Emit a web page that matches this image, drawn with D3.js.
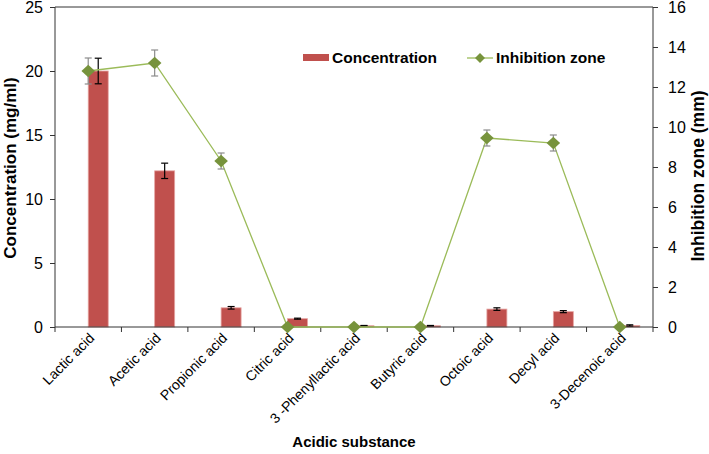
<!DOCTYPE html>
<html><head><meta charset="utf-8">
<script src="https://cdn.jsdelivr.net/npm/d3@7"></script>
<style>body{margin:0;background:#fff}svg{font-family:"Liberation Sans",Arial,sans-serif}</style>
</head><body><svg id="c" width="709" height="454"></svg>
<script>
const categories = ["Lactic acid","Acetic acid","Propionic acid","Citric acid","3 -Phenyllactic acid","Butyric acid","Octoic acid","Decyl acid","3-Decenoic acid"];
const concentration = [20.0, 12.2, 1.5, 0.65, 0.1, 0.1, 1.4, 1.2, 0.12];
const concErr = [1.0, 0.6, 0.1, 0.04, 0.02, 0.02, 0.1, 0.08, 0.05];
const inhibition = [12.8, 13.2, 8.3, 0, 0, 0, 9.45, 9.2, 0];
const inhibErr = [0.65, 0.65, 0.4, 0, 0, 0, 0.4, 0.4, 0];
const leftTicks = [0,5,10,15,20,25];
const rightTicks = [0,2,4,6,8,10,12,14,16];

const svg = d3.select("#c");
const L = 55, R = 653, T = 7, B = 327;
const x = d3.scaleBand().domain(categories).range([L, R]);
const yL = d3.scaleLinear().domain([0,25]).range([B, T]);
const yR = d3.scaleLinear().domain([0,16]).range([B, T]);
const cx = c => x(c) + x.bandwidth()/2;
const barW = 20;
const diamond = (w,h) => `M0,${-h}L${w},0L0,${h}L${-w},0Z`;

// frame top
svg.append("line").attr("x1",L).attr("x2",R).attr("y1",T).attr("y2",T).attr("stroke","#333").attr("stroke-width",1);

// bars
svg.selectAll("rect.bar").data(categories).enter().append("rect")
  .attr("x", c => cx(c)).attr("width", barW)
  .attr("y", (c,i) => yL(concentration[i])).attr("height", (c,i) => B - yL(concentration[i]))
  .attr("fill","#C0504D").attr("stroke","#E6A5A3").attr("stroke-width",0.8);

// bar error bars
const eb = svg.append("g").attr("stroke","#000").attr("stroke-width",1.2);
categories.forEach((c,i)=>{
  const xm = cx(c)+barW/2, y1 = yL(concentration[i]+concErr[i]), y2 = yL(concentration[i]-concErr[i]);
  eb.append("line").attr("x1",xm).attr("x2",xm).attr("y1",y1).attr("y2",y2);
  eb.append("line").attr("x1",xm-3.5).attr("x2",xm+3.5).attr("y1",y1).attr("y2",y1);
  eb.append("line").attr("x1",xm-3.5).attr("x2",xm+3.5).attr("y1",y2).attr("y2",y2);
});

// axes
const axL = svg.append("g").attr("transform",`translate(${L},0)`).call(d3.axisLeft(yL).tickValues(leftTicks).tickSize(5).tickPadding(7));
const axR = svg.append("g").attr("transform",`translate(${R},0)`).call(d3.axisRight(yR).tickValues(rightTicks).tickSize(5).tickPadding(10));
[axL,axR].forEach(a=>{a.select(".domain").attr("stroke","#333").attr("d",`M0,${T}V${B}`);
  a.selectAll(".tick line").attr("stroke","#333");
  a.selectAll("text").attr("font-size",16).attr("fill","#000").attr("font-family","Liberation Sans, Arial, sans-serif");});
const xb = svg.append("g").attr("transform",`translate(0,${B})`);
xb.append("line").attr("x1",L).attr("x2",R).attr("stroke","#333");
d3.range(categories.length+1).forEach(k=>{
  const xx = L + k*x.bandwidth();
  xb.append("line").attr("x1",xx).attr("x2",xx).attr("y1",0).attr("y2",5).attr("stroke","#333");
});
categories.forEach(c=>{
  xb.append("text").attr("transform",`translate(${cx(c)+7},${12}) rotate(-45)`)
    .attr("text-anchor","end").attr("font-size",14).text(c);
});

// line
const lineGen = d3.line().x((d,i)=>cx(categories[i])).y(d=>yR(d));
svg.append("path").datum(inhibition).attr("d",lineGen).attr("fill","none").attr("stroke","#9BBB59").attr("stroke-width",1.3);
const ie = svg.append("g").attr("stroke","#8c8c8c").attr("stroke-width",1.2);
categories.forEach((c,i)=>{
  if(!inhibErr[i]) return;
  const xm = cx(c), y1 = yR(inhibition[i]+inhibErr[i]), y2 = yR(inhibition[i]-inhibErr[i]);
  ie.append("line").attr("x1",xm).attr("x2",xm).attr("y1",y1).attr("y2",y2);
  ie.append("line").attr("x1",xm-3.5).attr("x2",xm+3.5).attr("y1",y1).attr("y2",y1);
  ie.append("line").attr("x1",xm-3.5).attr("x2",xm+3.5).attr("y1",y2).attr("y2",y2);
});
svg.selectAll("path.dia").data(inhibition).enter().append("path")
  .attr("d", diamond(6.8,6.3))
  .attr("transform",(d,i)=>`translate(${cx(categories[i])},${yR(d)})`)
  .attr("fill","#77933C");

// legend
svg.append("rect").attr("x",303).attr("y",54).attr("width",26).attr("height",7).attr("fill","#C0504D");
svg.append("text").attr("x",332).attr("y",63).attr("font-size",15.5).attr("font-weight","bold").text("Concentration");
svg.append("line").attr("x1",467).attr("x2",493).attr("y1",58).attr("y2",58).attr("stroke","#9BBB59").attr("stroke-width",1.3);
svg.append("path").attr("d",diamond(5,5)).attr("transform","translate(480,58)").attr("fill","#77933C");
svg.append("text").attr("x",496).attr("y",63).attr("font-size",15.5).attr("font-weight","bold").text("Inhibition zone");

// titles
svg.append("text").attr("transform",`translate(16,168) rotate(-90)`).attr("text-anchor","middle").attr("font-size",17).attr("font-weight","bold").text("Concentration (mg/ml)");
svg.append("text").attr("transform",`translate(704,176) rotate(-90)`).attr("text-anchor","middle").attr("font-size",17.5).attr("font-weight","bold").text("Inhibition zone (mm)");
svg.append("text").attr("x",354).attr("y",447).attr("text-anchor","middle").attr("font-size",15).attr("font-weight","bold").text("Acidic substance");
</script></body></html>
